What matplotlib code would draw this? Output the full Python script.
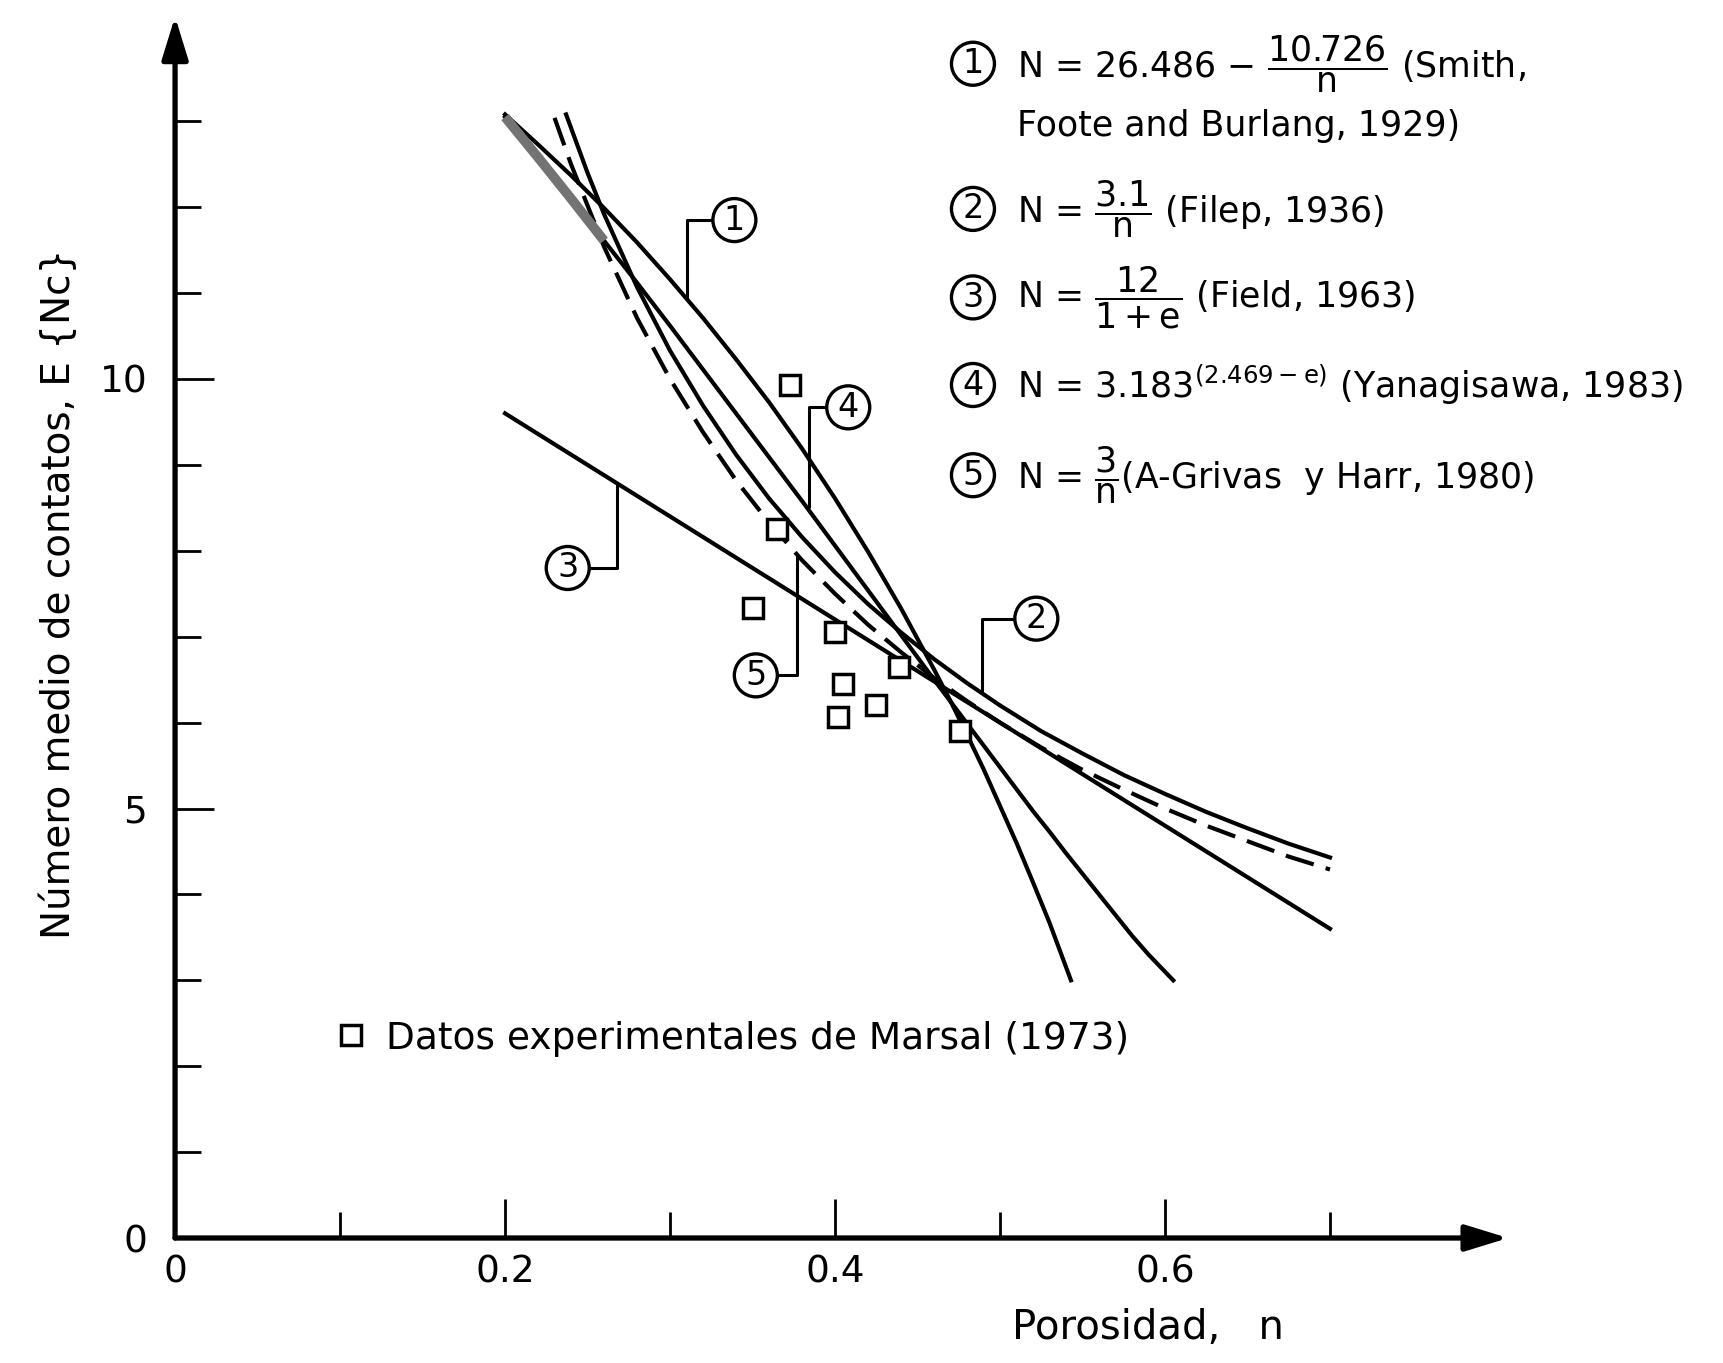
import matplotlib.pyplot as plt

# Porosidad n  ->  número medio de contactos N
smith_n = [0.20, 0.22, 0.24, 0.26, 0.28, 0.30, 0.32, 0.34, 0.36, 0.38, 0.40,
           0.42, 0.44, 0.46, 0.47, 0.48, 0.49, 0.50, 0.51, 0.52, 0.53, 0.543]
smith_N = [13.08, 12.73, 12.37, 11.99, 11.59, 11.16, 10.71, 10.23, 9.73, 9.19,
           8.61, 7.99, 7.33, 6.62, 6.25, 5.86, 5.46, 5.03, 4.60, 4.14, 3.67, 3.00]

filep_n = [0.237, 0.25, 0.26, 0.28, 0.30, 0.32, 0.34, 0.36, 0.38, 0.40, 0.42,
           0.44, 0.46, 0.48, 0.50, 0.525, 0.55, 0.575, 0.60, 0.625, 0.65, 0.675, 0.70]
filep_N = [13.08, 12.40, 11.92, 11.07, 10.33, 9.69, 9.12, 8.61, 8.16, 7.75, 7.38,
           7.05, 6.74, 6.46, 6.20, 5.90, 5.64, 5.39, 5.17, 4.96, 4.77, 4.59, 4.43]

field_n = [0.20, 0.30, 0.40, 0.50, 0.60, 0.70]
field_N = [9.60, 8.40, 7.20, 6.00, 4.80, 3.60]

yanag_n = [0.20, 0.22, 0.24, 0.26, 0.28, 0.30, 0.32, 0.34, 0.36, 0.38, 0.40,
           0.42, 0.44, 0.46, 0.48, 0.50, 0.52, 0.53, 0.54, 0.55, 0.56, 0.57,
           0.58, 0.59, 0.605]
yanag_N = [13.05, 12.58, 12.10, 11.61, 11.12, 10.62, 10.11, 9.60, 9.09, 8.58,
           8.06, 7.54, 7.02, 6.50, 5.99, 5.48, 4.97, 4.73, 4.48, 4.24, 4.00, 3.76,
           3.52, 3.30, 3.00]

grivas_n = [0.230, 0.24, 0.26, 0.28, 0.30, 0.32, 0.34, 0.36, 0.38, 0.40, 0.42,
            0.44, 0.46, 0.48, 0.50, 0.525, 0.55, 0.575, 0.60, 0.625, 0.65, 0.675, 0.70]
grivas_N = [13.04, 12.50, 11.54, 10.71, 10.00, 9.38, 8.82, 8.33, 7.89, 7.50, 7.14,
            6.82, 6.52, 6.25, 6.00, 5.71, 5.45, 5.22, 5.00, 4.80, 4.62, 4.44, 4.29]

marsal_n = [0.350, 0.365, 0.373, 0.400, 0.405, 0.402, 0.425, 0.439, 0.476]
marsal_N = [7.33, 8.25, 9.93, 7.05, 6.45, 6.07, 6.20, 6.65, 5.90]

x_ticks = [0, 0.2, 0.4, 0.6]
x_ticklabels = ['0', '0.2', '0.4', '0.6']
x_minor = [0.1, 0.3, 0.5, 0.7]
y_ticks = [0, 5, 10]
y_ticklabels = ['0', '5', '10']
y_minor = [1, 2, 3, 4, 6, 7, 8, 9, 11, 12, 13]

legend_lines = [
    ('1', r'N = 26.486 $-$ $\dfrac{10.726}{\mathrm{n}}$ (Smith,'),
    (None, 'Foote and Burlang, 1929)'),
    ('2', r'N = $\dfrac{3.1}{\mathrm{n}}$ (Filep, 1936)'),
    ('3', r'N = $\dfrac{12}{\mathrm{1+e}}$ (Field, 1963)'),
    ('4', r'N = 3.183$^{(2.469-\mathrm{e})}$ (Yanagisawa, 1983)'),
    ('5', r'N = $\dfrac{3}{\mathrm{n}}$(A-Grivas  y Harr, 1980)'),
]
legend_y = [13.67, 12.95, 11.98, 10.95, 9.93, 8.88]

plt.rcParams['font.family'] = 'DejaVu Sans'
plt.rcParams['mathtext.fontset'] = 'custom'
plt.rcParams['mathtext.rm'] = 'DejaVu Sans'
plt.rcParams['mathtext.it'] = 'DejaVu Sans'

fig = plt.figure(figsize=(17.24, 13.63), dpi=100)
ax = fig.add_axes([0, 0, 1, 1])
ax.set_xlim(-0.1061, 0.9388)
ax.set_ylim(-1.455, 14.412)

for s in ax.spines.values():
    s.set_visible(False)
ax.spines['left'].set_position(('data', 0))
ax.spines['bottom'].set_position(('data', 0))

arrow = dict(arrowstyle='-|>,head_length=1.3,head_width=0.4', lw=3.8,
             color='black', shrinkA=0, shrinkB=0, mutation_scale=20)
ax.annotate('', xy=(0.808, 0), xytext=(0, 0), arrowprops=arrow)
ax.annotate('', xy=(0, 14.22), xytext=(0, 0), arrowprops=arrow)

ax.set_xticks(x_ticks)
ax.set_xticklabels(x_ticklabels)
ax.set_xticks(x_minor, minor=True)
ax.set_yticks(y_ticks)
ax.set_yticklabels(y_ticklabels)
ax.set_yticks(y_minor, minor=True)
ax.tick_params(which='both', direction='in', width=2, labelsize=27, color='black')
ax.tick_params(which='major', length=28)
ax.tick_params(which='minor', length=19)
ax.tick_params(axis='x', pad=12)
ax.tick_params(axis='y', pad=20)

lw = 3
ax.plot(smith_n, smith_N, color='black', lw=lw)
ax.plot(filep_n, filep_N, color='black', lw=lw)
ax.plot(field_n, field_N, color='black', lw=lw)
ax.plot(yanag_n, yanag_N, color='black', lw=lw)
ax.plot(grivas_n, grivas_N, color='black', lw=lw, linestyle=(0, (7, 3)))
# tramo superpuesto (punteado gris en el original)
ax.plot(yanag_n[:4], yanag_N[:4], color='0.45', lw=7, solid_capstyle='butt')

ax.plot(marsal_n, marsal_N, linestyle='none', marker='s', ms=14,
        mfc='white', mec='black', mew=2.5,
        label='Datos experimentales de Marsal (1973)')

leg = ax.legend(loc='center left', bbox_to_anchor=(0.1827, 0.238), frameon=False,
                fontsize=27, borderpad=0, handlelength=0.9, handletextpad=0.5)

circ = dict(boxstyle='circle,pad=0.15', fc='white', ec='black', lw=2.4)
lead = dict(arrowstyle='-', lw=2.2, color='black', shrinkA=0, shrinkB=0,
            connectionstyle='angle,angleA=0,angleB=90,rad=0')
labels_on_curves = [
    ('1', (0.310, 10.95), (0.339, 11.85)),
    ('2', (0.489, 6.35), (0.522, 7.21)),
    ('3', (0.268, 8.78), (0.238, 7.80)),
    ('4', (0.384, 8.51), (0.408, 9.67)),
    ('5', (0.377, 7.93), (0.352, 6.55)),
]
for txt, xy, xyt in labels_on_curves:
    ax.annotate(txt, xy=xy, xytext=xyt, fontsize=24, ha='center', va='center',
                bbox=circ, arrowprops=lead)

for (num, line), y in zip(legend_lines, legend_y):
    if num is not None:
        ax.text(0.4836, y, num, fontsize=24, ha='center', va='center', bbox=circ)
    ax.text(0.510, y, line, fontsize=25, ha='left', va='center')

ax.set_ylabel('Número medio de contatos, E {Nc}', fontsize=28)
ax.yaxis.set_label_coords(0.045, 0.564)
ax.set_xlabel('Porosidad,   n', fontsize=29)
ax.xaxis.set_label_coords(0.666, 0.04)

fig.savefig('out.png', dpi=100)
